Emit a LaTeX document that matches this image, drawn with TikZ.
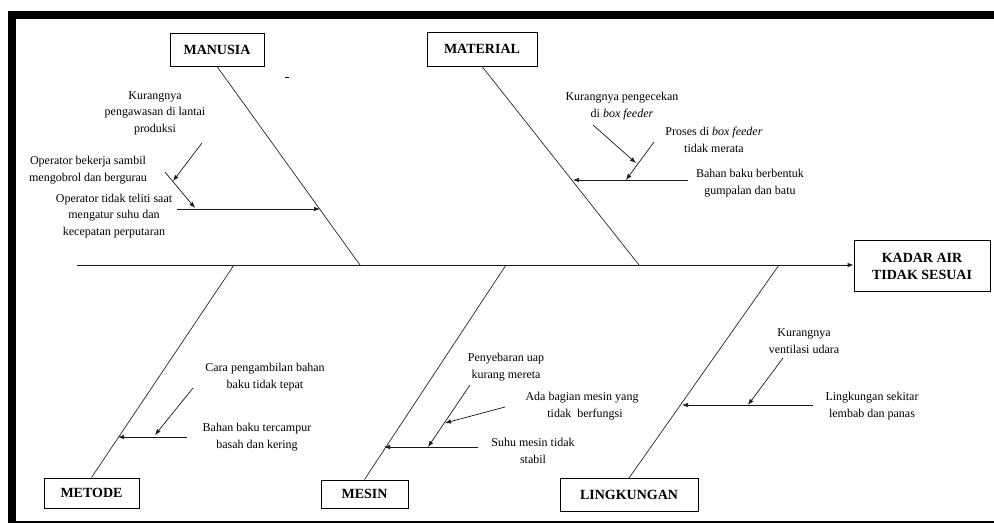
\documentclass[tikz,border=0pt]{standalone}
\usepackage{fontspec}
\setmainfont{Liberation Serif}
\usetikzlibrary{arrows.meta}
\begin{document}
\begin{tikzpicture}[x=1pt,y=-1pt,
  catbox/.style={draw, line width=0.9pt, inner sep=0pt, align=center,
    font=\fontsize{14}{17}\selectfont\bfseries},
  cause/.style={inner sep=0pt, align=center, font=\fontsize{12}{16.5}\selectfont},
  bone/.style={line width=0.7pt, draw=black!85},
  arr/.style={-{Latex[length=6pt,width=4.5pt]}, line width=0.7pt, draw=black!90},
  frame/.style={fill=black, draw=none}]
\useasboundingbox (0,0) rectangle (994,523);
% frame
\fill[frame] (8,11) rectangle (994,19);
\fill[frame] (8,11) rectangle (16,523);
\fill[frame] (8,521) rectangle (994,523);

% category boxes
\node[catbox, minimum width=94pt, minimum height=33pt] (man) at (217,49.5) {MANUSIA};
\node[catbox, minimum width=110pt, minimum height=34pt] (mat) at (482,49) {MATERIAL};
\node[catbox, minimum width=136pt, minimum height=51pt] (kad) at (922,266) {KADAR AIR\\TIDAK SESUAI};
\node[catbox, minimum width=95pt, minimum height=30pt] (met) at (91.5,493) {METODE};
\node[catbox, minimum width=87pt, minimum height=28pt] (mes) at (364.5,494) {MESIN};
\node[catbox, minimum width=138pt, minimum height=33pt] (lin) at (629,495) {LINGKUNGAN};

% spine
\coordinate (sp0) at (77,265);
\draw[arr] (sp0) -- (kad.west |- sp0);

% junctions on spine
\coordinate (jman) at (360,265);
\coordinate (jmat) at (639,265);
\coordinate (jmet) at (234,265);
\coordinate (jmes) at (506,265);
\coordinate (jlin) at (779,265);
\draw[bone] (man.south) -- (jman);
\draw[bone] (mat.south) -- (jmat);
\draw[bone] (met.north) -- (jmet);
\draw[bone] (mes.north) -- (jmes);
\draw[bone] (lin.north) -- (jlin);

% small mark
\coordinate (dA) at (285,77);
\coordinate (dB) at (289,77);
\draw[line width=0.6pt] (dA) -- (dB);

% cause texts
\node[cause] (k1) at (155,113) {Kurangnya\\pengawasan di lantai\\produksi};
\node[cause] (k2) at (88,170) {Operator bekerja sambil\\mengobrol dan bergurau};
\node[cause] (k3) at (114,216) {Operator tidak teliti saat\\mengatur suhu dan\\kecepatan perputaran};
\node[cause] (m1) at (622,106) {Kurangnya pengecekan\\di \textit{box feeder}};
\node[cause] (m2) at (714,140) {Proses di \textit{box feeder}\\tidak merata};
\node[cause] (m3) at (750,183) {Bahan baku berbentuk\\gumpalan dan batu};
\node[cause] (t1) at (265,377) {Cara pengambilan bahan\\baku tidak tepat};
\node[cause] (t2) at (257,437) {Bahan baku tercampur\\basah dan kering};
\node[cause] (s1) at (506,367) {Penyebaran uap\\kurang mereta};
\node[cause] (s2) at (582,406) {Ada bagian mesin yang\\\ \ tidak\ \ berfungsi};
\node[cause] (s3) at (533,451) {Suhu mesin tidak\\stabil};
\node[cause] (l1) at (804,341) {Kurangnya\\ventilasi udara};
\node[cause] (l2) at (872,406) {Lingkungan sekitar\\lembab dan panas};

% MANUSIA arrows
\coordinate (a1s) at (177,209); \coordinate (a1e) at (320,209);
\coordinate (a2s) at (165,172); \coordinate (a2e) at (195,208);
\coordinate (a3s) at (202,143); \coordinate (a3e) at (173,181);
\draw[arr] (a1s) -- (a1e);
\draw[arr] (a2s) -- (a2e);
\draw[arr] (a3s) -- (a3e);

% MATERIAL arrows
\coordinate (b1s) at (688,180); \coordinate (b1e) at (573,180);
\coordinate (b3s) at (654,142); \coordinate (b3e) at (626,180);
\coordinate (b2s) at (593,125); \coordinate (b2e) at (636,163);
\draw[arr] (b1s) -- (b1e);
\draw[arr] (b3s) -- (b3e);
\draw[arr] (b2s) -- (b2e);

% METODE arrows
\coordinate (c1s) at (187,437); \coordinate (c1e) at (118,437);
\coordinate (c2s) at (193,388); \coordinate (c2e) at (155,435);
\draw[arr] (c1s) -- (c1e);
\draw[arr] (c2s) -- (c2e);

% MESIN arrows
\coordinate (d1s) at (478,447); \coordinate (d1e) at (384,447);
\coordinate (d2s) at (470,385); \coordinate (d2e) at (428,447);
\coordinate (d3s) at (505,407); \coordinate (d3e) at (445,423);
\draw[arr] (d1s) -- (d1e);
\draw[arr] (d2s) -- (d2e);
\draw[arr] (d3s) -- (d3e);

% LINGKUNGAN arrows
\coordinate (e1s) at (813,405); \coordinate (e1e) at (682,405);
\coordinate (e2s) at (783,358); \coordinate (e2e) at (748,405);
\draw[arr] (e1s) -- (e1e);
\draw[arr] (e2s) -- (e2e);
\end{tikzpicture}
\end{document}
